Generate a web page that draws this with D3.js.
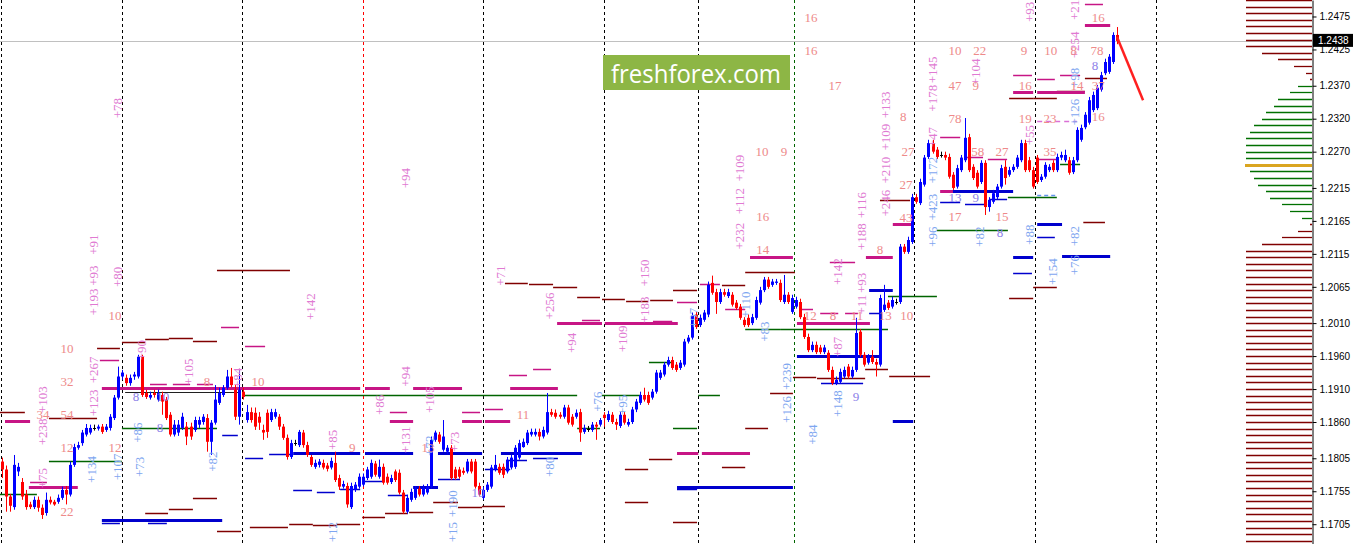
<!DOCTYPE html>
<html><head><meta charset="utf-8">
<script src="https://cdnjs.cloudflare.com/ajax/libs/d3/7.8.5/d3.min.js"></script>
<style>body{margin:0;background:#fff;overflow:hidden}svg{display:block}</style>
</head><body><svg id="c" width="1354" height="544"></svg>
<script>
// ---------- DATA ----------
// OHLC per bar
const candles = [
[1.1800,1.1806,1.1775,1.1788],[1.1788,1.1794,1.1724,1.1747],[1.1747,1.1751,1.1724,1.1733],[1.1731,1.1810,1.1727,1.1795],[1.1785,1.1798,1.1778,1.1792],
[1.1769,1.1775,1.1742,1.1747],[1.1750,1.1757,1.1727,1.1731],[1.1735,1.1739,1.1728,1.1731],[1.1731,1.1747,1.1728,1.1742],[1.1742,1.1747,1.1724,1.1730],
[1.1730,1.1735,1.1713,1.1719],[1.1722,1.1753,1.1718,1.1742],[1.1742,1.1747,1.1735,1.1738],[1.1739,1.1742,1.1733,1.1735],[1.1739,1.1750,1.1736,1.1745],
[1.1745,1.1762,1.1742,1.1757],[1.1757,1.1763,1.1735,1.1750],[1.1750,1.1800,1.1747,1.1795],[1.1795,1.1827,1.1792,1.1822],[1.1821,1.1830,1.1818,1.1825],
[1.1828,1.1848,1.1824,1.1844],[1.1841,1.1857,1.1838,1.1851],[1.1844,1.1856,1.1841,1.1851],[1.1851,1.1856,1.1847,1.1851],[1.1850,1.1856,1.1847,1.1853],
[1.1853,1.1857,1.1842,1.1845],[1.1848,1.1857,1.1845,1.1853],[1.1851,1.1872,1.1847,1.1868],[1.1866,1.1901,1.1863,1.1897],[1.1897,1.1944,1.1894,1.1929],
[1.1929,1.1939,1.1924,1.1935],[1.1927,1.1932,1.1915,1.1919],[1.1919,1.1932,1.1915,1.1927],[1.1929,1.1936,1.1924,1.1932],[1.1929,1.1962,1.1926,1.1959],
[1.1959,1.1962,1.1898,1.1901],[1.1904,1.1909,1.1895,1.1898],[1.1897,1.1906,1.1894,1.1901],[1.1904,1.1909,1.1897,1.1901],[1.1894,1.1909,1.1891,1.1904],
[1.1901,1.1906,1.1871,1.1891],[1.1894,1.1898,1.1863,1.1866],[1.1871,1.1875,1.1838,1.1841],[1.1841,1.1863,1.1838,1.1856],[1.1844,1.1863,1.1839,1.1856],
[1.1851,1.1874,1.1848,1.1868],[1.1853,1.1860,1.1825,1.1838],[1.1853,1.1859,1.1833,1.1838],[1.1848,1.1868,1.1845,1.1863],[1.1856,1.1868,1.1851,1.1863],
[1.1860,1.1872,1.1856,1.1868],[1.1866,1.1872,1.1815,1.1830],[1.1830,1.1863,1.1810,1.1859],[1.1859,1.1916,1.1856,1.1894],[1.1889,1.1912,1.1886,1.1904],
[1.1901,1.1916,1.1898,1.1912],[1.1912,1.1939,1.1909,1.1929],[1.1929,1.1942,1.1913,1.1916],[1.1909,1.1916,1.1863,1.1868],[1.1868,1.1939,1.1856,1.1909],
[1.1906,1.1912,1.1894,1.1898],[1.1863,1.1886,1.1859,1.1875],[1.1875,1.1882,1.1859,1.1863],[1.1874,1.1882,1.1848,1.1853],[1.1868,1.1875,1.1848,1.1859],
[1.1848,1.1856,1.1833,1.1844],[1.1874,1.1879,1.1836,1.1845],[1.1863,1.1880,1.1860,1.1875],[1.1868,1.1880,1.1865,1.1875],[1.1868,1.1872,1.1848,1.1853],
[1.1853,1.1857,1.1833,1.1836],[1.1836,1.1841,1.1803,1.1807],[1.1807,1.1833,1.1804,1.1828],[1.1828,1.1833,1.1824,1.1828],[1.1825,1.1848,1.1822,1.1845],
[1.1844,1.1848,1.1821,1.1825],[1.1825,1.1830,1.1807,1.1810],[1.1807,1.1810,1.1792,1.1795],[1.1792,1.1803,1.1789,1.1798],[1.1795,1.1804,1.1791,1.1800],
[1.1798,1.1803,1.1788,1.1791],[1.1794,1.1798,1.1785,1.1789],[1.1791,1.1806,1.1788,1.1801],[1.1798,1.1815,1.1769,1.1772],[1.1775,1.1780,1.1757,1.1762],
[1.1762,1.1771,1.1759,1.1766],[1.1763,1.1768,1.1730,1.1735],[1.1731,1.1768,1.1728,1.1763],[1.1757,1.1769,1.1754,1.1765],[1.1762,1.1782,1.1759,1.1777],
[1.1765,1.1782,1.1762,1.1777],[1.1775,1.1792,1.1772,1.1788],[1.1777,1.1803,1.1774,1.1798],[1.1797,1.1801,1.1777,1.1780],[1.1777,1.1803,1.1774,1.1792],
[1.1792,1.1797,1.1765,1.1768],[1.1777,1.1782,1.1765,1.1768],[1.1769,1.1780,1.1766,1.1775],[1.1785,1.1788,1.1769,1.1772],[1.1783,1.1788,1.1750,1.1753],
[1.1753,1.1757,1.1721,1.1724],[1.1724,1.1750,1.1721,1.1745],[1.1742,1.1759,1.1739,1.1754],[1.1745,1.1763,1.1742,1.1759],[1.1759,1.1763,1.1747,1.1750],
[1.1750,1.1765,1.1747,1.1760],[1.1753,1.1766,1.1750,1.1762],[1.1762,1.1838,1.1759,1.1833],[1.1833,1.1847,1.1830,1.1844],[1.1841,1.1845,1.1827,1.1830],
[1.1818,1.1863,1.1815,1.1838],[1.1815,1.1825,1.1812,1.1821],[1.1821,1.1825,1.1772,1.1775],[1.1788,1.1792,1.1772,1.1775],[1.1788,1.1792,1.1774,1.1777],
[1.1786,1.1791,1.1780,1.1783],[1.1785,1.1804,1.1782,1.1800],[1.1800,1.1804,1.1782,1.1785],[1.1800,1.1804,1.1759,1.1762],[1.1763,1.1768,1.1747,1.1750],
[1.1745,1.1762,1.1742,1.1757],[1.1757,1.1769,1.1754,1.1765],[1.1762,1.1795,1.1759,1.1791],[1.1788,1.1810,1.1785,1.1795],[1.1792,1.1797,1.1780,1.1783],
[1.1792,1.1797,1.1775,1.1780],[1.1785,1.1807,1.1782,1.1803],[1.1791,1.1810,1.1788,1.1806],[1.1792,1.1825,1.1789,1.1821],[1.1806,1.1833,1.1803,1.1828],
[1.1822,1.1835,1.1821,1.1830],[1.1828,1.1848,1.1825,1.1844],[1.1841,1.1850,1.1838,1.1845],[1.1841,1.1850,1.1838,1.1845],[1.1845,1.1850,1.1832,1.1838],
[1.1838,1.1853,1.1835,1.1848],[1.1844,1.1904,1.1841,1.1875],[1.1875,1.1880,1.1868,1.1871],[1.1874,1.1879,1.1865,1.1868],[1.1871,1.1875,1.1865,1.1868],
[1.1868,1.1886,1.1865,1.1882],[1.1882,1.1886,1.1856,1.1859],[1.1868,1.1872,1.1853,1.1856],[1.1868,1.1879,1.1865,1.1874],[1.1875,1.1880,1.1830,1.1844],
[1.1845,1.1856,1.1842,1.1851],[1.1850,1.1854,1.1845,1.1850],[1.1848,1.1860,1.1845,1.1856],[1.1856,1.1860,1.1833,1.1853],[1.1856,1.1866,1.1853,1.1863],
[1.1871,1.1875,1.1853,1.1866],[1.1863,1.1877,1.1860,1.1872],[1.1871,1.1875,1.1857,1.1860],[1.1860,1.1865,1.1848,1.1856],[1.1854,1.1875,1.1851,1.1871],
[1.1871,1.1875,1.1856,1.1859],[1.1856,1.1865,1.1853,1.1860],[1.1860,1.1883,1.1857,1.1879],[1.1879,1.1895,1.1875,1.1891],[1.1889,1.1906,1.1886,1.1901],
[1.1901,1.1912,1.1891,1.1894],[1.1901,1.1906,1.1886,1.1889],[1.1897,1.1910,1.1894,1.1906],[1.1906,1.1939,1.1903,1.1935],[1.1927,1.1939,1.1924,1.1935],
[1.1932,1.1951,1.1929,1.1947],[1.1947,1.1959,1.1944,1.1954],[1.1954,1.1959,1.1939,1.1942],[1.1947,1.1951,1.1936,1.1939],[1.1942,1.1954,1.1939,1.1950],
[1.1947,1.1986,1.1944,1.1982],[1.1982,1.1992,1.1979,1.1988],[1.1988,1.2026,1.1985,1.2021],[1.2023,1.2027,1.2001,1.2004],[1.2007,1.2023,1.2004,1.2018],
[1.2015,1.2030,1.2012,1.2026],[1.2023,1.2073,1.2019,1.2068],[1.2071,1.2082,1.2053,1.2056],[1.2057,1.2062,1.2024,1.2042],[1.2042,1.2062,1.2039,1.2057],
[1.2057,1.2062,1.2050,1.2053],[1.2051,1.2062,1.2048,1.2057],[1.2053,1.2057,1.2035,1.2038],[1.2041,1.2045,1.2030,1.2033],[1.2035,1.2039,1.2015,1.2018],
[1.2015,1.2019,1.2004,1.2007],[1.2018,1.2023,1.2004,1.2007],[1.2010,1.2024,1.2007,1.2019],[1.2018,1.2050,1.2015,1.2045],[1.2041,1.2065,1.2038,1.2060],
[1.2060,1.2080,1.2057,1.2076],[1.2076,1.2080,1.2062,1.2065],[1.2068,1.2077,1.2065,1.2073],[1.2071,1.2077,1.2068,1.2073],[1.2071,1.2076,1.2042,1.2045],
[1.2042,1.2083,1.2039,1.2053],[1.2053,1.2057,1.2039,1.2042],[1.2027,1.2053,1.2024,1.2048],[1.2035,1.2050,1.2032,1.2045],[1.2042,1.2047,1.2016,1.2019],
[1.2019,1.2024,1.1986,1.1989],[1.1989,1.1994,1.1966,1.1969],[1.1969,1.1982,1.1966,1.1977],[1.1977,1.1982,1.1963,1.1966],[1.1973,1.1977,1.1963,1.1966],
[1.1966,1.1977,1.1963,1.1973],[1.1965,1.1969,1.1936,1.1939],[1.1939,1.1944,1.1916,1.1919],[1.1919,1.1929,1.1916,1.1924],[1.1921,1.1941,1.1918,1.1936],
[1.1929,1.1944,1.1926,1.1939],[1.1944,1.1948,1.1926,1.1929],[1.1929,1.1944,1.1926,1.1939],[1.1939,1.2018,1.1936,1.1995],[1.1997,1.2001,1.1959,1.1962],
[1.1962,1.1966,1.1944,1.1947],[1.1950,1.1963,1.1947,1.1959],[1.1959,1.1969,1.1948,1.1951],[1.1951,1.1956,1.1929,1.1947],[1.1947,1.2053,1.1944,1.2048],
[1.2030,1.2068,1.2027,1.2038],[1.2041,1.2045,1.2030,1.2033],[1.2035,1.2050,1.2032,1.2045],[1.2042,1.2047,1.2038,1.2042],[1.2042,1.2130,1.2039,1.2126],
[1.2126,1.2130,1.2115,1.2118],[1.2118,1.2141,1.2115,1.2136],[1.2133,1.2206,1.2130,1.2201],[1.2201,1.2206,1.2191,1.2194],[1.2192,1.2229,1.2189,1.2224],
[1.2220,1.2265,1.2217,1.2261],[1.2262,1.2288,1.2259,1.2283],[1.2283,1.2288,1.2267,1.2270],[1.2273,1.2277,1.2259,1.2262],[1.2265,1.2270,1.2261,1.2265],
[1.2265,1.2270,1.2257,1.2261],[1.2262,1.2267,1.2229,1.2232],[1.2235,1.2239,1.2212,1.2215],[1.2217,1.2250,1.2214,1.2245],[1.2242,1.2265,1.2239,1.2261],
[1.2257,1.2321,1.2254,1.2291],[1.2292,1.2297,1.2239,1.2242],[1.2247,1.2251,1.2227,1.2230],[1.2238,1.2242,1.2214,1.2217],[1.2224,1.2257,1.2221,1.2253],
[1.2253,1.2257,1.2174,1.2186],[1.2186,1.2201,1.2179,1.2197],[1.2194,1.2212,1.2191,1.2207],[1.2201,1.2221,1.2198,1.2217],[1.2217,1.2250,1.2214,1.2245],
[1.2247,1.2257,1.2220,1.2230],[1.2235,1.2247,1.2232,1.2242],[1.2242,1.2251,1.2239,1.2247],[1.2247,1.2265,1.2244,1.2261],[1.2257,1.2288,1.2254,1.2283],
[1.2283,1.2288,1.2239,1.2242],[1.2257,1.2262,1.2239,1.2242],[1.2242,1.2247,1.2214,1.2217],[1.2261,1.2265,1.2221,1.2224],[1.2227,1.2236,1.2224,1.2232],
[1.2232,1.2254,1.2229,1.2250],[1.2242,1.2251,1.2239,1.2247],[1.2253,1.2257,1.2239,1.2242],[1.2242,1.2267,1.2239,1.2262],[1.2261,1.2270,1.2257,1.2265],
[1.2257,1.2273,1.2254,1.2265],[1.2257,1.2262,1.2235,1.2238],[1.2239,1.2262,1.2236,1.2257],[1.2257,1.2307,1.2254,1.2303],[1.2288,1.2311,1.2285,1.2306],
[1.2307,1.2330,1.2304,1.2326],[1.2314,1.2353,1.2311,1.2348],[1.2333,1.2361,1.2330,1.2356],[1.2336,1.2371,1.2333,1.2367],[1.2364,1.2391,1.2361,1.2386],
[1.2389,1.2411,1.2386,1.2406],[1.2391,1.2418,1.2388,1.2414],[1.2406,1.2451,1.2403,1.2447],[1.2447,1.2459,1.2433,1.2438]
];
const tickLabels = [1.2475,1.2425,1.2370,1.2320,1.2270,1.2215,1.2165,1.2115,1.2065,1.2010,1.1960,1.1910,1.1860,1.1805,1.1755,1.1705];
const currentPrice = 1.2438;
// session separators (bar position) and kind
const separators = [-0.25,29.8,59.9,89.9,120.0,150.1,173.5,197.5,227.5,257.6,287.8];
const separatorKinds = ['k','k','k','r','k','k','k','g','k','k','k'];
// horizontal levels: [kind, fromBar, toBar, price]
const levels = [
['dr',-0.5,5.7,1.1875],['MG',0.75,7.0,1.1862],['dr',11.7,23.7,1.1866],['gr',-0.5,8.7,1.1751],['mg',7.0,11.2,1.1769],
['MG',6.7,18.9,1.1762],['gr',11.7,29.9,1.1801],['gr',29.9,53.6,1.1851],['dr',23.7,29.4,1.1973],['dr',29.9,35.7,1.1982],
['dr',35.7,41.6,1.1986],['dr',41.6,47.6,1.1988],['dr',47.6,53.6,1.1983],['dr',53.6,71.8,1.2091],['mg',54.6,59.1,1.2004],
['mg',60.6,65.6,1.1976],['mg',24.4,29.2,1.1954],['MG',24.9,89.3,1.1912],['k',30.7,59.6,1.1906],['gr',59.9,143.4,1.1901],
['BL',24.9,54.9,1.1712],['bl',24.9,29.4,1.1707],['bl',36.4,41.1,1.1707],['bl',54.9,58.8,1.1841],['bl',60.6,65.1,1.1806],
['mg',36.9,41.1,1.1918],['mg',42.6,46.9,1.1918],['mg',48.6,52.6,1.1918],['dr',35.7,41.4,1.1722],['dr',41.6,47.6,1.1728],
['dr',47.6,53.6,1.1745],['dr',53.6,59.6,1.1695],
['dr',61.8,71.3,1.1701],['dr',71.6,77.5,1.1706],['dr',77.5,83.5,1.1704],['dr',83.5,89.3,1.1706],['dr',89.8,95.5,1.1716],
['dr',95.5,101.2,1.1722],['dr',101.5,107.5,1.1724],['dr',107.5,113.7,1.1739],['dr',113.7,119.7,1.1731],['dr',119.7,125.4,1.1733],
['BL',72.6,89.3,1.1813],['BL',90.5,102.5,1.1813],['BL',108.7,119.7,1.1813],['bl',66.6,72.6,1.1812],['bl',72.6,77.3,1.1757],
['bl',78.5,83.0,1.1754],['bl',84.3,89.3,1.1759],['bl',90.5,95.0,1.1771],['bl',96.2,101.0,1.1750],['BL',102.5,108.7,1.1762],
['bl',108.7,114.2,1.1774],['bl',120.4,126.7,1.1788],['mg',96.7,101.0,1.1875],['MG',96.7,102.5,1.1862],['mg',114.7,119.2,1.1875],
['MG',114.7,119.7,1.1862],['mg',120.4,124.9,1.1880],['MG',120.4,126.7,1.1862],['MG',90.5,96.7,1.1912],['MG',102.5,114.7,1.1912],
['MG',126.7,138.6,1.1912],['mg',126.4,130.9,1.1932],['mg',132.4,136.9,1.1941],['MG',138.4,149.6,1.2010],['MG',150.3,168.5,1.2010],
['mg',144.6,149.1,1.2015],['mg',162.3,167.1,1.2013],['mg',168.3,173.3,1.2042],['mg',174.0,179.0,1.2070],['MG',168.3,173.6,1.1813],
['MG',174.5,186.5,1.1813],['mg',180.3,185.3,1.2032],['BL',124.4,144.6,1.1813],['bl',126.4,130.9,1.1803],['bl',132.4,138.6,1.1806],
['BL',168.3,197.2,1.1762],['bl',168.3,173.3,1.1759],['dr',125.4,131.1,1.2071],['dr',131.4,137.4,1.2070],['dr',137.4,143.4,1.2065],
['dr',143.4,149.1,1.2050],['dr',149.6,155.3,1.2047],['dr',155.6,161.1,1.2044],['dr',161.6,167.3,1.2045],['dr',167.3,173.3,1.2060],
['dr',185.3,197.7,1.2088],['dr',179.5,185.3,1.2068],['dr',191.5,197.2,1.1904],['dr',185.3,191.0,1.1851],['dr',161.3,167.1,1.1804],
['dr',155.3,161.1,1.1789],['dr',179.5,185.3,1.1792],['dr',155.3,161.1,1.1739],['dr',167.3,173.3,1.1709],['gr',149.6,159.1,1.1901],
['gr',161.3,167.1,1.1951],['gr',173.6,179.0,1.1901],['gr',185.3,194.0,1.2001],['gr',143.4,149.1,1.1851],['gr',167.3,173.3,1.1851],
['MG',186.5,197.2,1.2110],
['mg',199.0,202.2,1.2032],['mg',204.0,208.5,1.2026],['mg',210.2,213.4,1.2026],['MG',198.2,216.4,1.2010],['gr',194.0,220.9,1.2001],
['dr',197.2,203.0,1.1929],['dr',203.2,215.2,1.1926],['BL',198.2,218.9,1.1960],['bl',204.2,214.7,1.1919],['dr',215.2,220.9,1.1941],
['dr',221.2,231.4,1.1930],['BL',216.2,222.1,1.2060],['bl',216.2,219.4,1.2026],['gr',220.9,233.1,1.2051],['BL',222.1,227.2,1.1862],
['MG',215.4,222.1,1.2110],['mg',206.4,212.7,1.2103],
['dr',218.9,226.4,1.2197],['MG',222.1,227.2,1.2160],['mg',233.9,238.9,1.2292],['MG',233.9,239.6,1.2210],['BL',237.1,252.1,1.2210],
['bl',233.9,238.9,1.2194],['bl',240.1,245.6,1.2191],['bl',246.3,250.6,1.2198],['gr',233.1,250.8,1.2151],['mg',240.1,244.6,1.2262],
['mg',245.8,250.6,1.2259],['gr',250.8,263.0,1.2201],['lbd',258.1,263.0,1.2204],['mgd',258.1,268.0,1.2317],['mg',252.1,256.8,1.2386],
['MG',252.1,257.1,1.2361],['dr',251.1,257.1,1.2351],['mg',258.1,262.5,1.2380],['MG',258.1,270.0,1.2361],['mg',263.8,268.8,1.2386],
['dr',257.1,263.0,1.2351],['dr',263.0,270.0,1.2362],['mg',258.1,263.3,1.2259],['BL',258.1,264.3,1.2160],['bl',258.1,262.5,1.2141],
['BL',252.1,257.1,1.2110],['bl',252.1,256.8,1.2086],['dr',257.1,263.0,1.2065],['dr',251.1,257.1,1.2048],['BL',264.3,276.3,1.2112],
['dr',269.6,275.0,1.2163],['gr',263.8,268.8,1.2251],['mg',270.0,274.5,1.2494],['MG',270.0,276.3,1.2462],['dr',270.0,275.5,1.2382]
];
// text labels: [text, bar, price, kind]  p=pink vertical, b=blue vertical, s=salmon, v=violet
const labels = [
['+193',22.7,1.2042,'p'],['+93',22.7,1.2082,'p'],['+91',22.7,1.2129,'p'],['+80',28.7,1.2080,'p'],['+78',28.7,1.2336,'p'],
['+267',22.7,1.1939,'p'],['+123',22.7,1.1889,'p'],['+103',10.2,1.1894,'p'],['+238',10.2,1.1845,'p'],['+75',10.2,1.1775,'p'],
['+90',34.9,1.1969,'p'],['+105',46.4,1.1936,'p'],['+84',58.6,1.1927,'p'],['+142',76.8,1.2035,'p'],['+94',100.5,1.2230,'p'],
['+94',100.5,1.1929,'p'],['+85',82.5,1.1833,'p'],['+86',94.2,1.1886,'p'],['+131',100.5,1.1833,'p'],['+105',106.7,1.1894,'p'],
['+73',112.7,1.1830,'p'],['+71',124.2,1.2082,'p'],['+256',136.4,1.2036,'p'],['+94',142.1,1.1980,'p'],['+150',160.3,1.2086,'p'],
['+109',154.6,1.1986,'p'],['+183',160.3,1.2030,'p'],['+232',184.0,1.2142,'p'],['+112',184.0,1.2195,'p'],['+109',184.0,1.2245,'p'],
['+188',214.4,1.2141,'p'],['+116',214.4,1.2189,'p'],['+142',208.4,1.2088,'p'],['+93',214.4,1.2071,'p'],['+11',214.4,1.2038,'p'],
['+87',208.4,1.1974,'p'],['+246',220.2,1.2192,'p'],['+210',220.2,1.2242,'p'],['+109',220.2,1.2292,'p'],['+133',220.2,1.2341,'p'],
['+178',232.1,1.2351,'p'],['+145',232.1,1.2394,'p'],['+47',231.9,1.2292,'p'],['+104',242.6,1.2391,'p'],['+55',256.3,1.2295,'p'],
['+93',256.3,1.2482,'p'],['+21',267.5,1.2485,'p'],['+254',267.5,1.2432,'p'],
['+134',22.4,1.1788,'b'],['+107',28.7,1.1792,'b'],['+86',33.9,1.1844,'b'],['+73',34.4,1.1792,'b'],['+82',52.4,1.1800,'b'],
['+12',82.5,1.1693,'b'],['+72',106.7,1.1824,'b'],['+190',112.2,1.1736,'b'],['+15',112.2,1.1693,'b'],['+80',136.4,1.1792,'b'],
['+76',148.4,1.1891,'b'],['+95',154.6,1.1886,'b'],['+97',172.3,1.2018,'b'],['+110',185.3,1.2038,'b'],['+83',190.2,1.1997,'b'],
['+239',195.7,1.1929,'b'],['+126',195.7,1.1879,'b'],['+84',202.2,1.1841,'b'],['+148',208.2,1.1888,'b'],['+96',231.9,1.2141,'b'],
['+423',231.9,1.2186,'b'],['+172',231.9,1.2242,'b'],['+82',243.8,1.2141,'b'],['+88',256.1,1.2144,'b'],['+154',262.0,1.2088,'b'],
['+76',267.5,1.2098,'b'],['+82',267.5,1.2142,'b'],['+126',267.5,1.2330,'b'],['+98',267.5,1.2382,'b'],
['10',16.2,1.1971,'s'],['32',16.2,1.1921,'s'],['54',16.2,1.1872,'s'],['34',10.2,1.1872,'s'],['12',16.2,1.1822,'s'],
['22',16.2,1.1724,'s'],['10',28.2,1.2021,'s'],['12',28.2,1.1822,'s'],['8',51.1,1.1921,'s'],['10',63.8,1.1922,'s'],
['9',87.3,1.1822,'s'],['13',106.2,1.1822,'s'],['11',129.9,1.1872,'s'],['16',201.7,1.2473,'s'],['16',201.7,1.2423,'s'],
['17',207.7,1.2371,'s'],['10',189.5,1.2271,'s'],['9',195.0,1.2271,'s'],['16',189.7,1.2171,'s'],['14',189.7,1.2121,'s'],
['8',218.9,1.2121,'s'],['12',201.5,1.2021,'s'],['8',207.2,1.2021,'s'],['11',213.2,1.2021,'s'],['13',220.2,1.2021,'s'],
['10',225.6,1.2021,'s'],['8',224.7,1.2323,'s'],['27',225.9,1.2271,'s'],['27',225.4,1.2220,'s'],['43',225.4,1.2170,'s'],
['10',237.6,1.2423,'s'],['22',243.8,1.2423,'s'],['47',237.6,1.2371,'s'],['9',242.8,1.2371,'s'],['78',237.6,1.2321,'s'],
['17',237.6,1.2171,'s'],['15',249.3,1.2171,'s'],['58',243.3,1.2271,'s'],['27',249.3,1.2271,'s'],['9',254.8,1.2423,'s'],
['10',261.5,1.2423,'s'],['8',267.2,1.2423,'s'],['78',273.0,1.2423,'s'],['16',273.3,1.2473,'s'],['16',255.1,1.2371,'s'],
['14',268.0,1.2371,'s'],['37',273.3,1.2371,'s'],['19',255.1,1.2321,'s'],['23',261.3,1.2321,'s'],['16',273.3,1.2323,'s'],
['35',261.3,1.2271,'s'],
['8',33.4,1.1898,'v'],['10',40.1,1.1898,'v'],['8',39.4,1.1851,'v'],['10',118.7,1.1753,'v'],['9',212.9,1.1898,'v'],
['8',248.8,1.2148,'v'],['13',237.6,1.2200,'v'],['9',242.8,1.2200,'v'],['8',272.5,1.2400,'v']
];
// volume profile (top price, step, relative volumes per 10-pip bin)
const profileTop = 1.2500, profileStep = 0.0010;
const profileVolume = [66,66,66,66,66,66,66,66,50,34,18,6,2,
  14,22,34,38,46,50,58,62,66,66,66,66,67,62,58,54,46,42,30,22,10,
  2,14,30,50,66,66,66,66,66,66,66,66,66,66,66,66,66,66,66,66,66,66,66,66,66,66,66,66,66,66,66,66,66,66,66,66,66,66,66,66,66,66,66,66,66,66,66,66,66];
const valueArea = [13,33], pocIndex = 25;
const forecast = [[278.0,1.2444],[284.5,1.2348]];
const watermark = 'freshforex.com';

// ---------- DRAW ----------
const W=1354,H=544, axisX=1312;
const svg=d3.select('#c');
const x=d3.scaleLinear().domain([0,278]).range([2,1117]);
const y=d3.scaleLinear().domain([1.1675,1.2500]).range([H,0]);
svg.append('defs').append('clipPath').attr('id','clip').append('rect').attr('x',0).attr('y',0).attr('width',axisX).attr('height',H);
const g=svg.append('g').attr('clip-path','url(#clip)');

// separators
const sepColor={k:'#000',r:'#ff0000',g:'#006400'};
g.selectAll('line.sep').data(separators).enter().append('line')
 .attr('x1',d=>Math.round(x(d))+0.5).attr('x2',d=>Math.round(x(d))+0.5).attr('y1',0).attr('y2',H)
 .attr('stroke',(d,i)=>sepColor[separatorKinds[i]]).attr('stroke-width',1).attr('stroke-dasharray','3,3');

// current price line
g.append('line').attr('x1',0).attr('x2',axisX).attr('y1',Math.round(y(currentPrice))+0.5).attr('y2',Math.round(y(currentPrice))+0.5)
 .attr('stroke','#c0c0c0').attr('stroke-width',1);

// profile
const px=d3.scaleLinear().domain([0,66]).range([axisX,1246]);
g.selectAll('line.prof').data(profileVolume).enter().append('line')
 .attr('x1',d=>px(d)).attr('x2',axisX)
 .attr('y1',(d,i)=>Math.round(y(profileTop-i*profileStep))+0.5).attr('y2',(d,i)=>Math.round(y(profileTop-i*profileStep))+0.5)
 .attr('stroke',(d,i)=>i===pocIndex?'#daa520':(i>=valueArea[0]&&i<=valueArea[1]?'#007000':'#800000'))
 .attr('stroke-width',(d,i)=>i===pocIndex?3:1.3);

// levels
const lvlStyle={
 dr:{c:'#800000',w:1.5},mg:{c:'#c71585',w:1.5},MG:{c:'#c71585',w:3},
 bl:{c:'#0000cd',w:1.5},BL:{c:'#0000cd',w:3},gr:{c:'#006400',w:1.5},
 k:{c:'#202020',w:1},lbd:{c:'#6495ed',w:1.5,dash:'4,3'},mgd:{c:'#da70d6',w:1.5,dash:'5,4'}
};
const order=['k','gr','dr','mg','mgd','lbd','MG','bl','BL'];
const lv=levels.slice().sort((a,b)=>order.indexOf(a[0])-order.indexOf(b[0]));
g.selectAll('line.lvl').data(lv).enter().append('line')
 .attr('x1',d=>x(d[1])).attr('x2',d=>x(d[2]))
 .attr('y1',d=>Math.round(y(d[3]))+0.5).attr('y2',d=>Math.round(y(d[3]))+0.5)
 .attr('stroke',d=>lvlStyle[d[0]].c).attr('stroke-width',d=>lvlStyle[d[0]].w)
 .attr('stroke-dasharray',d=>lvlStyle[d[0]].dash||null);

// candles
const cg=g.append('g');
candles.forEach((c,i)=>{
  const [o,h,l,cl]=c; const xc=Math.round(x(i));
  const col= cl>o?'#0000ff':(cl<o?'#ff0000':'#000');
  cg.append('line').attr('x1',xc+0.5).attr('x2',xc+0.5).attr('y1',y(h)).attr('y2',y(l)).attr('stroke',col).attr('stroke-width',1);
  const top=y(Math.max(o,cl)), bot=y(Math.min(o,cl));
  if(cl===o){ cg.append('line').attr('x1',xc-1).attr('x2',xc+2).attr('y1',Math.round(top)+0.5).attr('y2',Math.round(top)+0.5).attr('stroke','#000'); }
  else cg.append('rect').attr('x',xc-1).attr('y',top).attr('width',3).attr('height',Math.max(1,bot-top)).attr('fill',col);
});

// labels
const labColor={p:'#e07ad2',b:'#7ea6f0',s:'#ee8a8a',v:'#8c80e8'};
const lg=g.append('g').attr('font-family','Liberation Serif, serif').attr('font-size',13);
labels.forEach(d=>{
  const [t,b,p,k]=d; const X=x(b), Y=y(p);
  const tx=lg.append('text').text(t).attr('fill',labColor[k]).attr('text-anchor','middle').attr('dominant-baseline','central');
  if(k==='p'||k==='b') tx.attr('transform',`translate(${X},${Y}) rotate(-90)`);
  else tx.attr('x',X).attr('y',Y);
});

// forecast line
g.append('line').attr('x1',x(forecast[0][0])).attr('y1',y(forecast[0][1])).attr('x2',x(forecast[1][0])).attr('y2',y(forecast[1][1]))
 .attr('stroke','#ff2020').attr('stroke-width',2.5);

// watermark
const wm=svg.append('g');
wm.append('rect').attr('x',603).attr('y',55).attr('width',187).attr('height',35).attr('fill','#8db645');
wm.append('text').attr('x',696).attr('y',73).attr('text-anchor','middle').attr('dominant-baseline','central')
 .attr('font-family','Open Sans, DejaVu Sans, sans-serif').attr('font-size',25).attr('fill','#fff')
 .attr('textLength',170).attr('lengthAdjust','spacingAndGlyphs').text(watermark);

// axis
const ax=svg.append('g').attr('transform',`translate(${axisX+0.5},0)`)
 .call(d3.axisRight(y).tickValues(tickLabels).tickSizeInner(4).tickSizeOuter(0).tickPadding(3).tickFormat(d3.format('.4f')));
ax.select('.domain').attr('stroke','#000');
ax.selectAll('text').attr('font-family','Liberation Sans, Arial, sans-serif').attr('font-size',10).attr('fill','#000');

// current price tag
const cy=y(currentPrice);
svg.append('rect').attr('x',axisX+1).attr('y',cy-7).attr('width',40).attr('height',13).attr('fill','#000');
svg.append('text').attr('x',axisX+6).attr('y',cy).attr('dominant-baseline','central').attr('font-family','Liberation Sans, Arial, sans-serif')
 .attr('font-size',10).attr('fill','#fff').text(d3.format('.4f')(currentPrice));
</script></body></html>
